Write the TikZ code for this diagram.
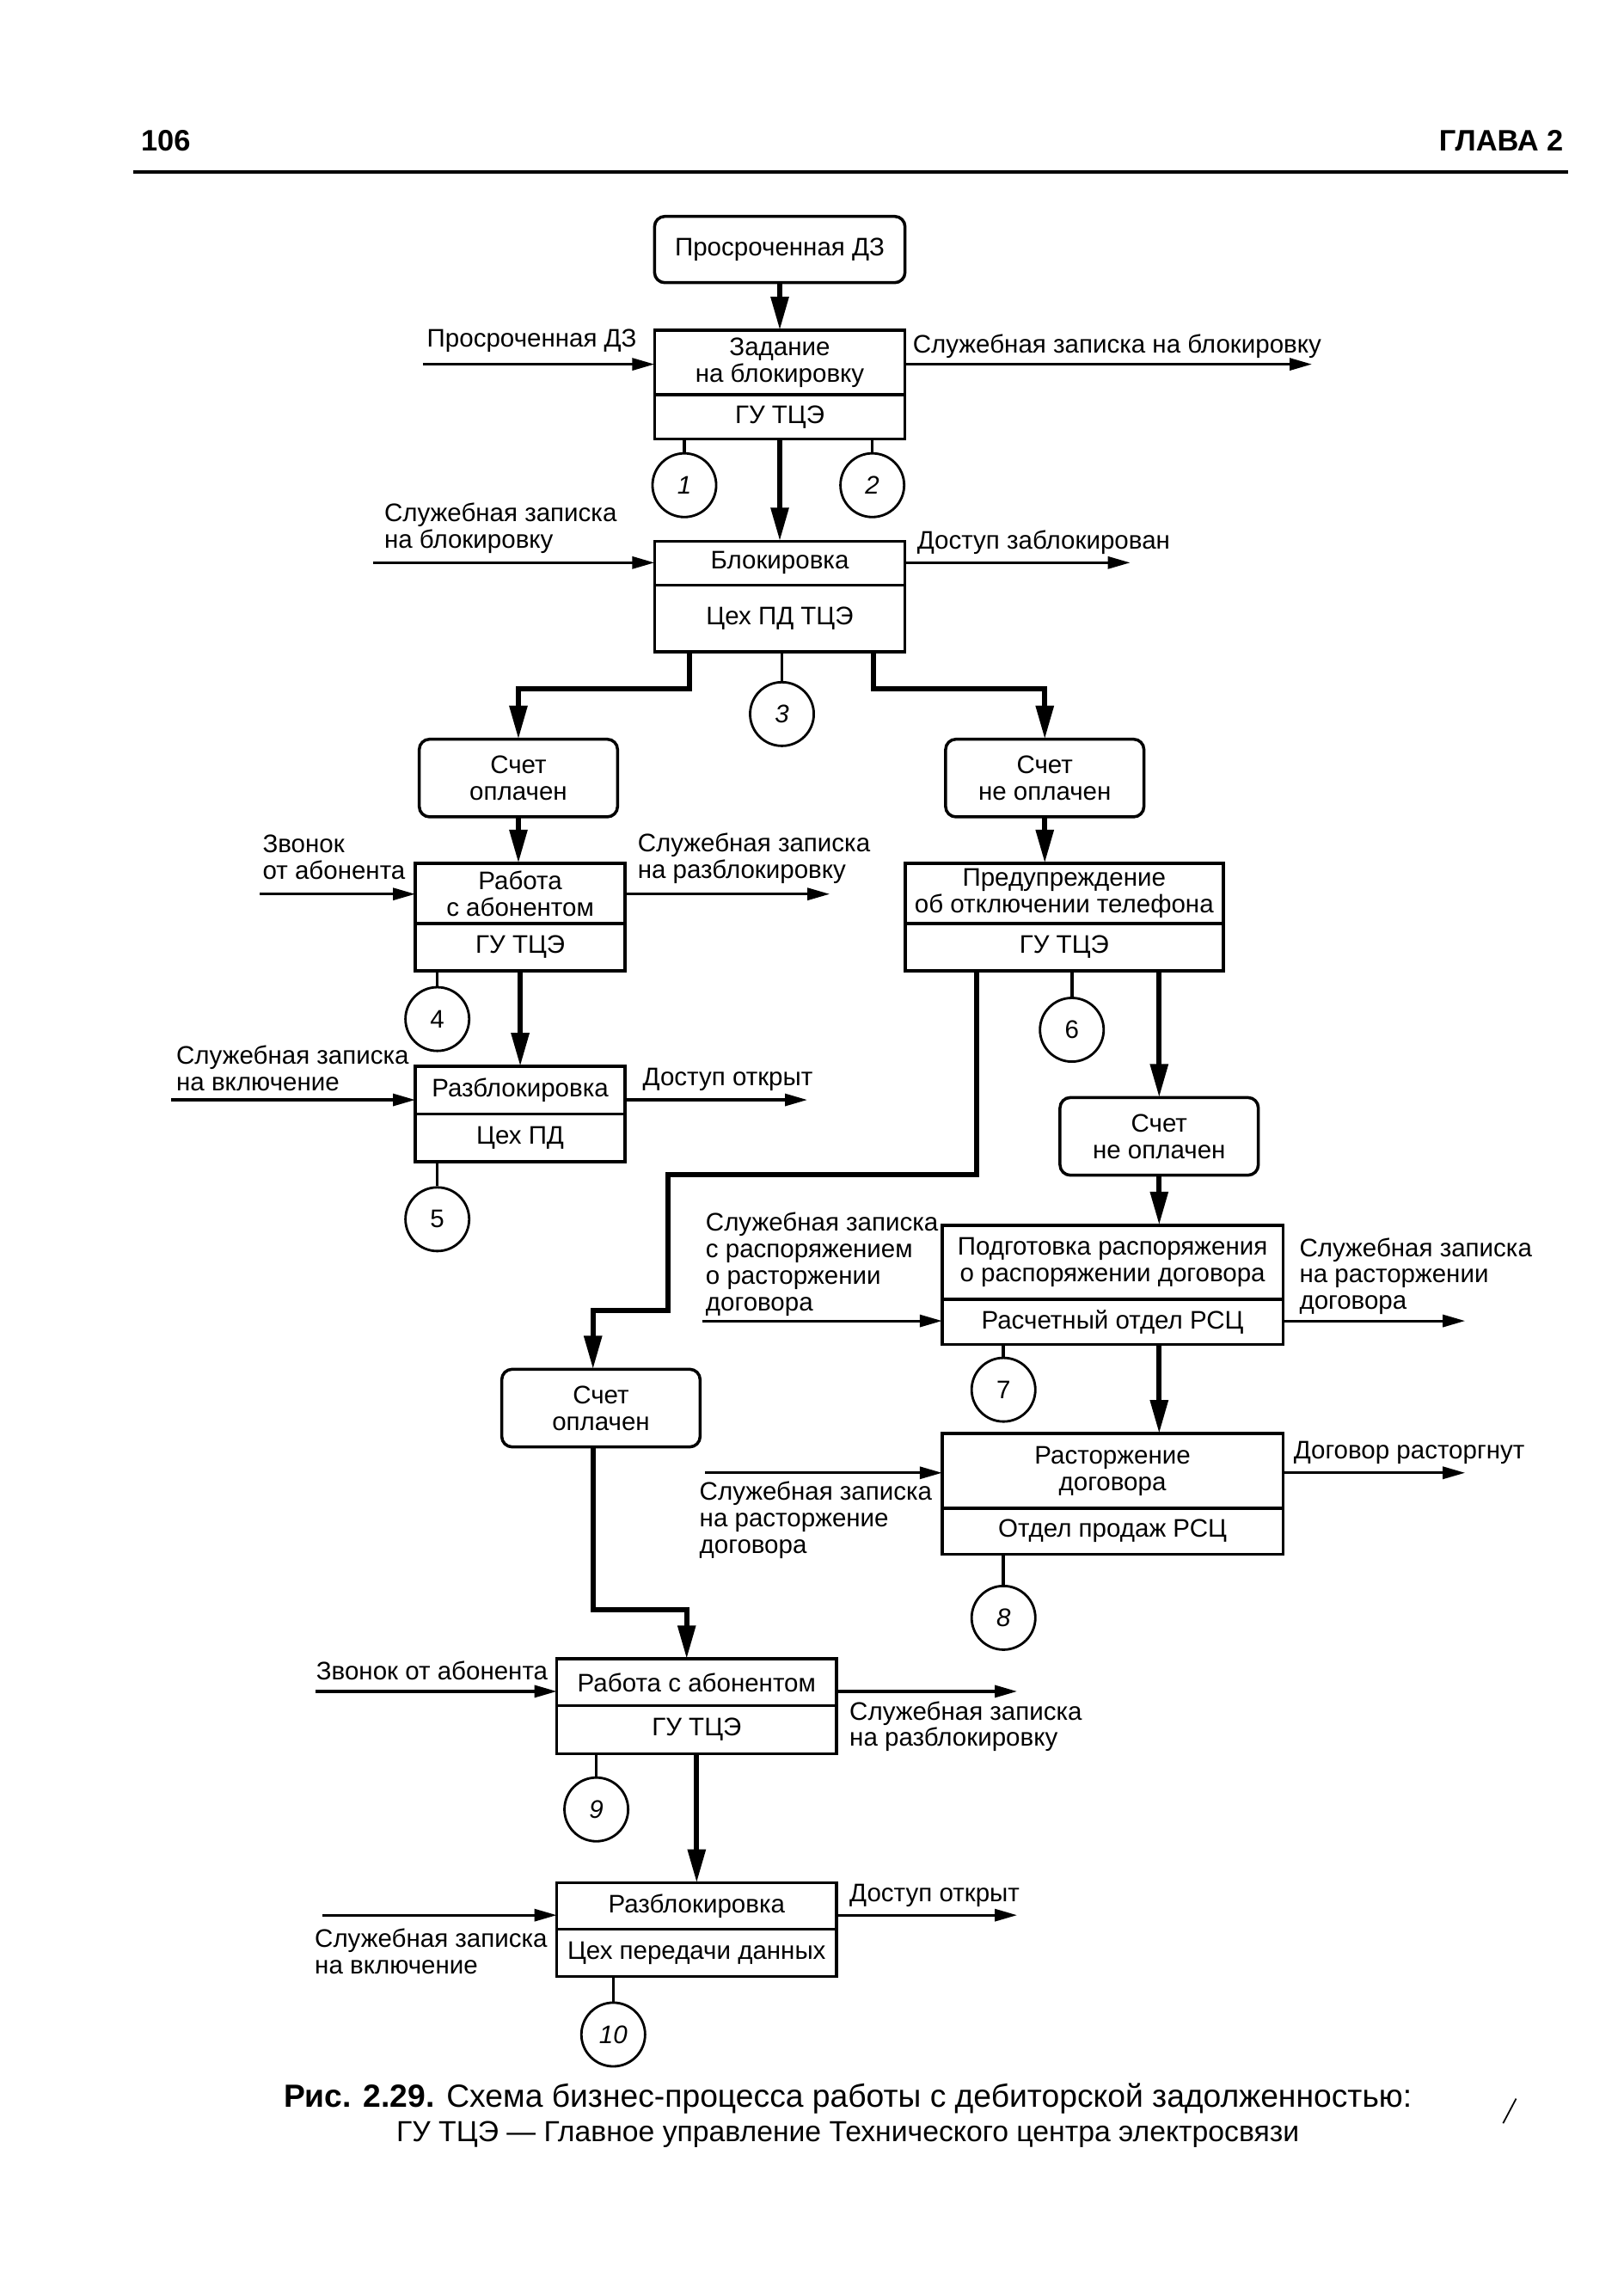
\documentclass[tikz,border=0pt]{standalone}
\usepackage{fontspec}
\setmainfont{Liberation Sans}
\usetikzlibrary{positioning, calc, arrows.meta}

\begin{document}
\begin{tikzpicture}[
          x = 0.016842cm, y = -0.016842cm,
          font = \fontsize{8.4}{8.8}\selectfont,
          flow/.style = {draw, line width = 1.7pt, -{Triangle[length=3.9mm, width=2mm]}},
          io/.style = {draw, line width = 0.9pt, -{Triangle[length=2.6mm, width=1.4mm]}}
        ]
          \tikzstyle {event} = [draw, line width = 1pt, rounded corners = 1.2mm, minimum width = 2.307cm, minimum height = 0.903cm, align = center, inner sep = 1pt, outer sep = 0]
          \tikzstyle {proc} = [draw, line width = 1pt, align = center, inner sep = 1pt, outer sep = 0]
          \tikzstyle {num} = [draw, shape = circle, line width = 0.8pt, minimum size = 0.741cm, inner sep = 0]
          \tikzstyle {lbl} = [anchor = west, align = left, inner sep = 0]
          \tikzstyle {stem} = [draw, line width = 1pt]
          \useasboundingbox (0,0) rectangle (1121,1568);
          \fill [white] (0,0) rectangle (1121,1568);
          % page head
          \path node (page) [anchor = west, inner sep = 0, font = \fontsize{9.8}{11}\selectfont\bfseries] at (97,97) {106};
          \path node (chap) [anchor = east, inner sep = 0, font = \fontsize{9.8}{11}\selectfont\bfseries] at (1080,97) {ГЛАВА 2};
          \draw [line width = 1.1pt] (92,119) -- (1083,119);
          % place nodes
          \path node (dz) [event, minimum width = 2.914cm, minimum height = 0.771cm] at (538.5,172.3) {Просроченная ДЗ};
          \path node (zad) [proc, minimum width = 2.914cm, minimum height = 0.751cm] at (538.5,250.3) {Задание\\на блокировку};
          \path node (zad-org) [proc, minimum width = 2.914cm, minimum height = 0.512cm, below = 0pt of zad] {ГУ ТЦЭ};
          \path node (blok) [proc, minimum width = 2.914cm, minimum height = 0.512cm] at (538.5,388.8) {Блокировка};
          \path node (blok-org) [proc, minimum width = 2.914cm, minimum height = 0.775cm, below = 0pt of blok] {Цех ПД ТЦЭ};
          \path node (opl1) [event] at (358,537.2) {Счет\\оплачен};
          \path node (neopl1) [event] at (721.5,537.2) {Счет\\не оплачен};
          \path node (rab1) [proc, minimum width = 2.442cm, minimum height = 0.701cm] at (359.25,616.8) {Работа\\с абонентом};
          \path node (rab1-org) [proc, minimum width = 2.442cm, minimum height = 0.552cm, below = 0pt of rab1] {ГУ ТЦЭ};
          \path node (razb1) [proc, minimum width = 2.442cm, minimum height = 0.554cm] at (359.25,752.75) {Разблокировка};
          \path node (razb1-org) [proc, minimum width = 2.442cm, minimum height = 0.552cm, below = 0pt of razb1] {Цех ПД};
          \path node (pred) [proc, minimum width = 3.702cm, minimum height = 0.701cm] at (734.9,616.8) {Предупреждение\\об отключении телефона};
          \path node (pred-org) [proc, minimum width = 3.702cm, minimum height = 0.552cm, below = 0pt of pred] {ГУ ТЦЭ};
          \path node (neopl2) [event] at (800.5,784.6) {Счет\\не оплачен};
          \path node (podg) [proc, minimum width = 3.965cm, minimum height = 0.861cm] at (768.3,871.45) {Подготовка распоряжения\\о распоряжении договора};
          \path node (podg-org) [proc, minimum width = 3.965cm, minimum height = 0.527cm, below = 0pt of podg] {Расчетный отдел РСЦ};
          \path node (rast) [proc, minimum width = 3.965cm, minimum height = 0.867cm] at (768.3,1015.55) {Расторжение\\договора};
          \path node (rast-org) [proc, minimum width = 3.965cm, minimum height = 0.534cm, below = 0pt of rast] {Отдел продаж РСЦ};
          \path node (opl2) [event] at (415,972.2) {Счет\\оплачен};
          \path node (rab2) [proc, minimum width = 3.254cm, minimum height = 0.542cm] at (481.1,1161.5) {Работа с абонентом};
          \path node (rab2-org) [proc, minimum width = 3.254cm, minimum height = 0.562cm, below = 0pt of rab2] {ГУ ТЦЭ};
          \path node (razb2) [proc, minimum width = 3.254cm, minimum height = 0.539cm] at (481.1,1316) {Разблокировка};
          \path node (razb2-org) [proc, minimum width = 3.254cm, minimum height = 0.549cm, below = 0pt of razb2] {Цех передачи данных};
          % numbered circles
          \foreach \c/\x/\y/\t in {n1/472.6/335/\textit{1}, n2/602.4/335/\textit{2}, n3/540/493/\textit{3},
              n4/302/703.6/4, n5/302/841.8/5, n6/740.2/711/6, n7/693/959.5/7,
              n8/693/1117/\textit{8}, n9/411.8/1249.3/\textit{9}, n10/423.5/1404.7/\textit{10}}
            { \path node (\c) [num] at (\x,\y) {\t}; } ;
          % inputs and outputs
          \path node (zad-in-l) [lbl] at (294.5,235) {Просроченная ДЗ};
          \path node (zad-out-l) [lbl] at (630,239) {Служебная записка на блокировку};
          \path node (blok-in-l) [lbl] at (265,364.7) {Служебная записка\\на блокировку};
          \path node (blok-out-l) [lbl] at (633,374.7) {Доступ заблокирован};
          \path node (rab1-in-l) [lbl] at (181,591.6) {Звонок\\от абонента};
          \path node (rab1-out-l) [lbl] at (440,592.7) {Служебная записка\\на разблокировку};
          \path node (razb1-in-l) [lbl] at (121.4,737.5) {Служебная записка\\на включение};
          \path node (razb1-out-l) [lbl] at (443.5,745.6) {Доступ открыт};
          \path node (podg-in-l) [lbl] at (487,872.8) {Служебная записка\\с распоряжением\\о расторжении\\договора};
          \path node (podg-out-l) [lbl] at (897,881.2) {Служебная записка\\на расторжении\\договора};
          \path node (rast-in-l) [lbl] at (482.7,1049.5) {Служебная записка\\на расторжение\\договора};
          \path node (rast-out-l) [lbl] at (893,1003) {Договор расторгнут};
          \path node (rab2-in-l) [lbl] at (218,1153.5) {Звонок от абонента};
          \path node (rab2-out-l) [lbl] at (586.3,1192) {Служебная записка\\на разблокировку};
          \path node (razb2-in-l) [lbl] at (217,1347.3) {Служебная записка\\на включение};
          \path node (razb2-out-l) [lbl] at (586.3,1308.7) {Доступ открыт};
          \coordinate (zad-in) at (292,251.5);     \coordinate (zad-out) at (906,251.5);
          \coordinate (blok-in) at (257.7,388.5);  \coordinate (blok-out) at (780.5,388.5);
          \coordinate (rab1-in) at (179.4,617.3);  \coordinate (rab1-out) at (573,617.3);
          \coordinate (razb1-in) at (118,759.4);   \coordinate (razb1-out) at (557.5,759.4);
          \coordinate (podg-in) at (484.9,912);    \coordinate (podg-out) at (1011.8,912);
          \coordinate (rast-in) at (487,1016.9);   \coordinate (rast-out) at (1011.8,1016.9);
          \coordinate (rab2-in) at (218,1167.8);   \coordinate (rab2-out) at (702.4,1167.8);
          \coordinate (razb2-in) at (222.8,1322.3); \coordinate (razb2-out) at (702.4,1322.3);
          % bends of the left branch
          \coordinate (turn1) at (461.5,811);
          \coordinate (turn2) at (409.5,904.6);
          \coordinate (turn3) at (474.2,1111.4);
          % place edges
          \draw [flow] (dz) -- (zad);
          \draw [flow] (zad-org) -- (blok);
          \draw [flow] ($(blok-org.south west)+(24,0)$) -- ++(0,25.6) -| (opl1.north);
          \draw [flow] ($(blok-org.south east)+(-21.7,0)$) -- ++(0,25.6) -| (neopl1.north);
          \draw [flow] (opl1.south) -- (opl1.south |- rab1.north);
          \draw [flow] (rab1-org) -- (razb1);
          \draw [flow] (neopl1.south) -- (neopl1.south |- pred.north);
          \draw [flow] (neopl2.north |- pred-org.south) -- (neopl2.north);
          \draw [flow] (neopl2.south) -- (neopl2.south |- podg.north);
          \draw [flow] (podg-org.south -| neopl2.south) -- (rast.north -| neopl2.south);
          \draw [flow] ($(pred-org.south west)+(49.2,0)$) |- (turn1) |- (turn2) -- (turn2 |- opl2.north);
          \draw [flow] (turn2 |- opl2.south) |- (turn3) -- (turn3 |- rab2.north);
          \draw [flow] (rab2-org) -- (razb2);
          \foreach \c/\b in {n1/zad-org, n2/zad-org, n3/blok-org, n4/rab1-org, n5/razb1-org,
              n6/pred-org, n7/podg-org, n8/rast-org, n9/rab2-org, n10/razb2-org}
            { \draw [stem] (\c.north) -- (\c.north |- \b.south) ; } ;
          \foreach \b in {zad, blok, rab1, razb1, podg, rast, rab2, razb2}
            { \draw [io] (\b-in) -- (\b-in -| \b.west) ;
              \draw [io] (\b-out -| \b.east) -- (\b-out) ; } ;
          % caption
          \path node (cap1) [font = \fontsize{10.6}{12}\selectfont] at (585.5,1449) {\textbf{Рис. 2.29.} Схема бизнес-процесса работы с дебиторской задолженностью:};
          \path node (cap2) [font = \fontsize{9.6}{12}\selectfont] at (585.5,1474) {ГУ ТЦЭ — Главное управление Технического центра электросвязи};
          \draw [line width = 0.5pt] (1038,1466) -- (1047,1449);
        \end{tikzpicture}
\end{document}
